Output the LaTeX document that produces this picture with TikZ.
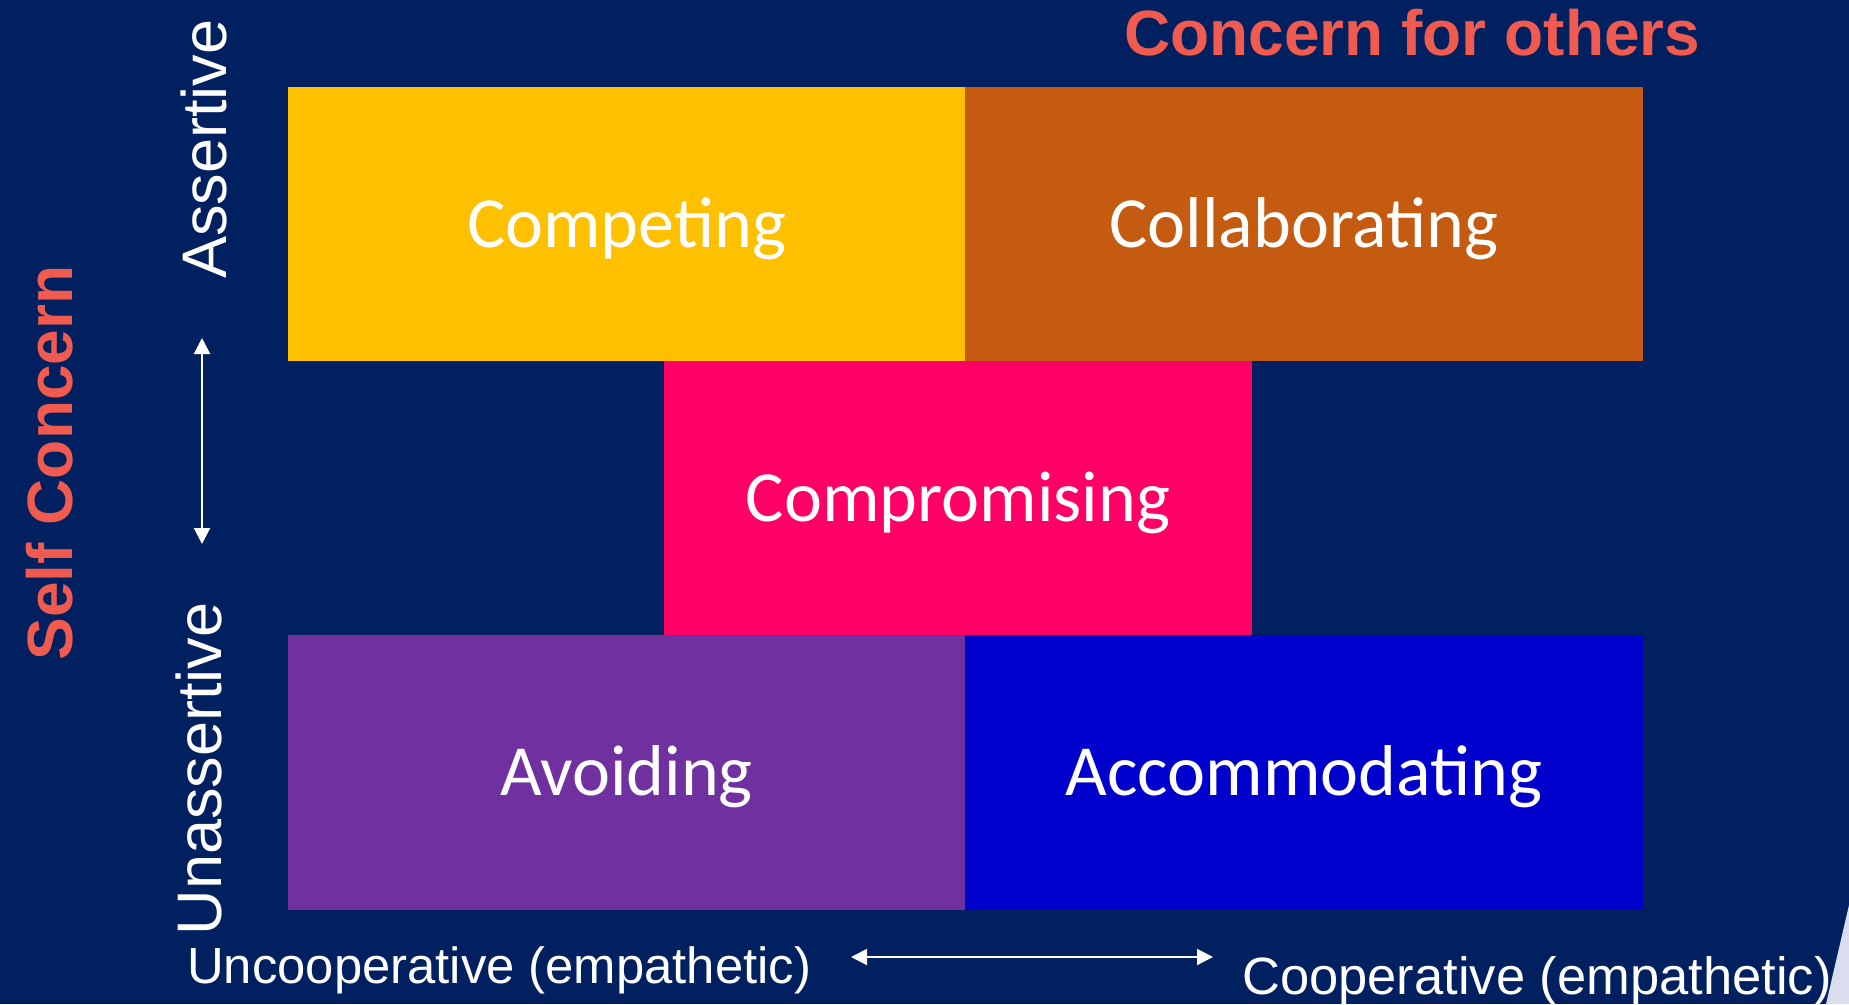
\documentclass[tikz,border=0pt]{standalone}
\usepackage{fontspec}
\setmainfont{Liberation Sans}
\newfontfamily\boxfont{Carlito}
\usetikzlibrary{arrows.meta}
\definecolor{bg}{HTML}{002060}
\definecolor{compete}{HTML}{FFC000}
\definecolor{collab}{HTML}{C55A11}
\definecolor{compro}{HTML}{FF0066}
\definecolor{avoid}{HTML}{7030A0}
\definecolor{accom}{HTML}{0000CC}
\definecolor{headred}{HTML}{F15B4F}
\definecolor{curl}{HTML}{DADDEE}
\begin{document}
\begin{tikzpicture}[x=1pt,y=-1pt,
  quad/.style={rectangle, inner sep=0pt, text=white,
    font=\boxfont\fontsize{72}{86}\selectfont,
    text height=46pt, text depth=0pt},
  axislabel/.style={inner sep=0pt, text=white, font=\fontsize{63}{75}\selectfont},
  heading/.style={inner sep=0pt, text=headred, font=\bfseries\fontsize{64}{77}\selectfont},
  dimline/.style={draw=white, line width=2pt,
    {Triangle[length=16pt,width=16pt]}-{Triangle[length=16pt,width=16pt]}}]
% background
\fill[bg] (0,0) rectangle (1849,1004);
\useasboundingbox (0,0) rectangle (1849,1004);
% turned-page corner
\fill[curl] (1849,905) -- (1826,1004) -- (1849,1004) -- cycle;

% the five conflict styles
\node[quad, fill=compete, minimum width=677pt, minimum height=274pt] (competing) at (626.5,224) {Competing};
\node[quad, fill=collab, minimum width=678pt, minimum height=274pt] (collaborating) at (1304,224) {Collaborating};
\node[quad, fill=compro, minimum width=588pt, minimum height=274pt] (compromising) at (958,498) {Compromising};
\node[quad, fill=avoid, minimum width=677pt, minimum height=275pt] (avoiding) at (626.5,772.5) {Avoiding};
\node[quad, fill=accom, minimum width=678pt, minimum height=275pt] (accommodating) at (1304,772.5) {Accommodating};

% headings
\node[heading, anchor=base west] (others) at (1124,55) {Concern for others};
\node[heading, anchor=base, rotate=90] (self) at (72,463) {Self Concern};

% vertical axis
\node[axislabel, anchor=base, rotate=90] (assertive) at (226,149) {Assertive};
\node[axislabel, anchor=base, rotate=90] (unassertive) at (221,769) {Unassertive};
\coordinate (vtop) at (202,338);
\coordinate (vbot) at (202,544);
\draw[dimline] (vtop) -- (vbot);

% horizontal axis
\node[axislabel, anchor=base west, font=\fontsize{50.8}{61}\selectfont] (uncoop) at (187,983) {Uncooperative (empathetic)};
\node[axislabel, anchor=base west, font=\fontsize{52.5}{62}\selectfont] (coop) at (1242,994) {Cooperative (empathetic)};
\coordinate (hleft) at (851,957);
\coordinate (hright) at (1213,957);
\draw[dimline] (hleft) -- (hright);
\end{tikzpicture}
\end{document}
